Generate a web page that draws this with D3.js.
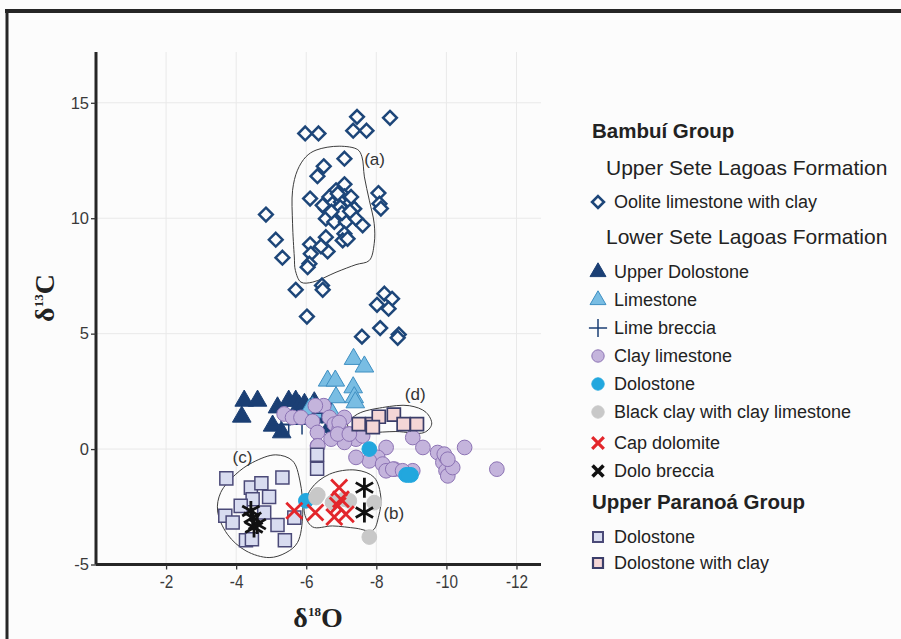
<!DOCTYPE html>
<html>
<head>
<meta charset="utf-8">
<script src="https://cdn.jsdelivr.net/npm/d3@7"></script>
<style>
  html, body { margin: 0; padding: 0; background: #fcfcfc; }
  svg { display: block; }
</style>
</head>
<body>
<svg id="chart"></svg>
<script>
const width = 901;
const height = 639;

// axis ticks
const xTicks = [-2, -4, -6, -8, -10, -12];
const yTicks = [-5, 0, 5, 10, 15];

// [d18O, d13C] pairs
const oolite = [
    [-5.97, 13.67], [-6.35, 13.67], [-7.45, 14.39], [-8.39, 14.35], [-7.34, 13.79], [-7.72, 13.79],
    [-7.09, 12.58], [-6.50, 12.25], [-6.32, 11.82], [-7.09, 11.47], [-6.11, 10.85],
    [-6.85, 11.21], [-6.66, 10.92], [-7.09, 10.95], [-6.75, 10.63], [-6.99, 10.70], [-7.23, 10.63],
    [-6.56, 10.41], [-6.85, 10.34], [-7.09, 10.34], [-7.37, 10.41], [-6.66, 10.12], [-6.94, 10.05],
    [-7.18, 10.12], [-6.56, 9.98], [-6.80, 9.84], [-7.13, 9.84], [-7.42, 9.98], [-7.61, 9.69],
    [-7.09, 9.33], [-7.04, 9.04], [-7.18, 9.11], [-6.90, 11.06], [-7.28, 10.92], [-6.47, 10.56],
    [-8.06, 11.09], [-8.09, 10.63], [-8.13, 10.42], [-4.85, 10.16], [-5.13, 9.07], [-5.32, 8.29],
    [-6.11, 8.87], [-6.13, 8.46], [-6.56, 9.18], [-6.61, 8.56], [-6.42, 8.78], [-6.09, 8.03],
    [-6.04, 7.88], [-5.70, 6.90], [-6.45, 7.09], [-6.47, 6.90], [-6.02, 5.74],
    [-8.23, 6.73], [-8.45, 6.51], [-8.02, 6.25], [-8.35, 6.08],
    [-7.59, 4.87], [-8.11, 5.24], [-8.64, 4.96], [-8.61, 4.82],
    [-6.97, 10.48], [-7.02, 10.22], [-6.72, 10.28], [-7.25, 10.30]
];
const upperDolostone = [
    [-4.23, 2.09], [-4.61, 2.09], [-4.16, 1.40], [-5.04, 1.01], [-5.30, 0.72], [-5.50, 2.09],
    [-5.70, 2.09], [-5.18, 1.80], [-5.80, 1.88], [-6.23, 2.02], [-6.70, 1.59], [-6.56, 1.37],
    [-6.66, 0.94], [-5.95, 1.95]
];
const limestone = [
    [-7.35, 3.90], [-7.66, 3.57], [-6.61, 2.96], [-6.83, 2.96], [-7.34, 2.67], [-6.85, 2.24],
    [-7.37, 2.24], [-7.40, 2.02], [-6.18, 1.80], [-6.09, 1.73], [-6.37, 1.59], [-6.75, 1.51]
];
const limeBreccia = [[-5.28, 1.05], [-5.50, 1.08], [-5.88, 1.08], [-6.45, 1.55]];
const clayLimestone = [
    [-5.37, 1.52], [-5.61, 1.37], [-5.85, 1.37], [-6.18, 1.20], [-6.32, 0.72], [-6.50, 1.88],
    [-6.66, 1.37], [-6.80, 1.08], [-6.94, 0.86], [-7.09, 1.37], [-7.23, 0.65], [-7.42, 0.43],
    [-7.61, 0.57], [-7.09, 0.29], [-6.94, 1.15], [-6.32, 0.14], [-6.26, 1.88],
    [-6.33, 0.14], [-6.71, 0.43], [-6.90, 0.65], [-7.23, 0.65],
    [-9.04, 0.50], [-9.33, 0.07], [-8.28, 0.07], [-8.04, -0.36], [-7.80, -0.51], [-7.42, -0.36],
    [-8.18, -0.65], [-8.52, -0.87], [-9.04, -0.94], [-8.28, -0.94], [-8.47, -0.87], [-8.75, -0.94],
    [-9.75, -0.15], [-9.90, -0.58], [-9.99, -0.94], [-10.04, -1.16], [-10.18, -0.80], [-9.99, -0.36],
    [-9.94, -0.22], [-10.04, -0.44], [-10.52, 0.07], [-11.44, -0.87]
];
const dolostoneLower = [[-7.80, 0.00], [-8.85, -1.12], [-8.99, -1.12], [-8.92, -1.12], [-5.99, -2.24]];
const blackClay = [
    [-6.28, -2.10], [-6.33, -1.98], [-6.75, -2.32], [-7.09, -2.17], [-7.23, -2.24], [-7.94, -2.32], [-7.80, -3.81]
];
const capDolomite = [
    [-5.66, -2.67], [-6.26, -2.75], [-6.80, -2.94], [-7.13, -2.82], [-6.94, -1.67], [-6.99, -2.17], [-6.90, -2.45]
];
const doloBreccia = [[-7.66, -1.67], [-7.66, -2.75], [-4.42, -2.68], [-4.47, -2.97], [-4.51, -3.40], [-4.60, -3.25]];
const paranoaDolostone = [
    [-3.72, -1.27], [-4.42, -1.67], [-4.72, -1.48], [-5.32, -1.23], [-4.94, -2.07], [-4.47, -2.17],
    [-4.13, -2.46], [-4.80, -2.75], [-3.69, -2.89], [-3.90, -3.18], [-5.18, -3.29], [-5.66, -2.97],
    [-5.39, -3.95], [-4.28, -3.95], [-4.45, -3.91], [-6.31, -0.25], [-6.31, -0.85]
];
const paranoaDolostoneClay = [
    [-7.50, 1.08], [-7.88, 1.08], [-8.07, 1.40], [-8.50, 1.49], [-8.78, 1.08], [-9.16, 1.08], [-7.90, 0.95]
];

// outlines drawn round the groups
const hullA = [
    [-6.28, 12.95], [-6.94, 13.12], [-7.47, 12.97], [-7.59, 12.66], [-7.66, 11.79], [-7.80, 10.78],
    [-7.94, 9.76], [-7.94, 8.90], [-7.80, 8.17], [-7.42, 7.99], [-6.85, 7.66], [-6.18, 7.23],
    [-5.85, 7.23], [-5.69, 7.74], [-5.66, 8.32], [-5.61, 9.76], [-5.61, 11.21], [-5.75, 12.08], [-5.99, 12.66]
];
const hullB = [
    [-5.94, -2.68], [-6.13, -1.74], [-6.66, -1.09], [-7.42, -0.91], [-7.94, -1.23], [-8.13, -2.10],
    [-8.07, -2.89], [-7.90, -3.52], [-7.42, -3.43], [-6.75, -3.33], [-6.18, -3.37]
];
const hullC = [
    [-4.47, -0.58], [-5.13, -0.25], [-5.61, -0.51], [-5.82, -1.38], [-5.90, -2.82], [-5.75, -4.05],
    [-5.42, -4.49], [-4.94, -4.70], [-4.28, -4.41], [-3.75, -3.69], [-3.47, -2.68], [-3.56, -1.88], [-3.99, -1.09]
];
const hullD = [
    [-7.18, 1.08], [-7.47, 1.52], [-8.18, 1.80], [-8.94, 1.88], [-9.42, 1.59], [-9.58, 1.08],
    [-9.37, 0.72], [-8.56, 0.76], [-7.80, 0.72], [-7.28, 0.79]
];
const hullLabels = [
    { text: "(a)", x: -7.95, y: 12.58 },
    { text: "(b)", x: -8.50, y: -2.75 },
    { text: "(c)", x: -4.18, y: -0.36 },
    { text: "(d)", x: -9.11, y: 2.38 }
];

const svg = d3.select("#chart")
    .attr("width", width)
    .attr("height", height);

svg.append("rect").attr("width", width).attr("height", height).attr("fill", "#fcfcfc");

// outer frame (top and left edges only visible)
svg.append("line").attr("x1", 5).attr("x2", width).attr("y1", 11).attr("y2", 11)
    .attr("stroke", "#262626").attr("stroke-width", 4);
svg.append("line").attr("x1", 7).attr("x2", 7).attr("y1", 9).attr("y2", height)
    .attr("stroke", "#262626").attr("stroke-width", 3);

const x = d3.scaleLinear().domain([0, -12.7]).range([96, 541]);
const y = d3.scaleLinear().domain([-5, 17.2]).range([564.5, 52]);

// grid
svg.append("g").selectAll("line").data(xTicks).join("line")
    .attr("x1", d => x(d)).attr("x2", d => x(d)).attr("y1", y(17.2)).attr("y2", y(-5))
    .attr("stroke", "#e9e9e9").attr("stroke-width", 1);
svg.append("g").selectAll("line").data(yTicks.filter(d => d > -5)).join("line")
    .attr("x1", x(0)).attr("x2", x(-12.7)).attr("y1", d => y(d)).attr("y2", d => y(d))
    .attr("stroke", "#e9e9e9").attr("stroke-width", 1);

// axes (plain hyphen for the minus sign, like the original)
const fmt = d => String(d);
const xAxis = svg.append("g")
    .attr("transform", `translate(0,${y(-5)})`)
    .call(d3.axisBottom(x).tickValues(xTicks).tickSize(5).tickPadding(6).tickFormat(fmt));
const yAxis = svg.append("g")
    .attr("transform", `translate(${x(0)},0)`)
    .call(d3.axisLeft(y).tickValues(yTicks).tickSize(5).tickPadding(2).tickFormat(fmt));
[xAxis, yAxis].forEach(a => {
    a.select(".domain").attr("stroke", "#262626").attr("stroke-width", 3);
    a.selectAll(".tick line").attr("stroke", "#333").attr("stroke-width", 1.3);
    a.selectAll(".tick text").attr("fill", "#3a3a3a")
        .style("font-family", "'Liberation Sans', Arial, sans-serif");
});
xAxis.selectAll(".tick text").style("font-size", "18px").attr("transform", "scale(0.85,1)");
yAxis.selectAll(".tick text").style("font-size", "16.5px");
xAxis.select(".domain").attr("d", `M${x(0)},0H${x(-12.7)}`);
yAxis.select(".domain").attr("d", `M0,${y(17.2)}V${y(-5)}`);

// axis titles
const serif = "'Liberation Serif', 'Times New Roman', serif";
const xt = svg.append("text").attr("x", 318).attr("y", 627).attr("text-anchor", "middle")
    .style("font-family", serif).style("font-weight", "bold").style("font-size", "28px").attr("fill", "#222");
xt.append("tspan").text("δ");
xt.append("tspan").attr("dy", -11).style("font-size", "13px").text("18");
xt.append("tspan").attr("dy", 11).text("O");

const yt = svg.append("text").attr("transform", "translate(54,298) rotate(-90)").attr("text-anchor", "middle")
    .style("font-family", serif).style("font-weight", "bold").style("font-size", "28px").attr("fill", "#222");
yt.append("tspan").text("δ");
yt.append("tspan").attr("dy", -11).style("font-size", "13px").text("13");
yt.append("tspan").attr("dy", 11).text("C");

// outlines
const hullLine = d3.line().x(d => x(d[0])).y(d => y(d[1])).curve(d3.curveCatmullRomClosed.alpha(0.5));
svg.append("g").selectAll("path").data([hullA, hullB, hullC, hullD]).join("path")
    .attr("d", hullLine).attr("fill", "none").attr("stroke", "#3d3d3d").attr("stroke-width", 1);
svg.append("g").selectAll("text").data(hullLabels).join("text")
    .attr("x", d => x(d.x)).attr("y", d => y(d.y)).attr("dy", "0.35em").attr("text-anchor", "middle")
    .style("font-family", "'Liberation Sans', Arial, sans-serif")
    .style("font-size", "17px").attr("fill", "#333").text(d => d.text);

// six-armed star: an X plus a vertical bar
const symbolStar6 = {
    draw(context, size) {
        const r = Math.sqrt(size) / 2;
        const c = r * Math.cos(Math.PI / 6), s = r * Math.sin(Math.PI / 6);
        context.moveTo(0, -r); context.lineTo(0, r);
        context.moveTo(-c, -s); context.lineTo(c, s);
        context.moveTo(-c, s); context.lineTo(c, -s);
    }
};

// marker styles
const styles = {
    upperDolostone: { type: d3.symbolTriangle, size: 150, fill: "#1b3f74", stroke: "#1b3f74", sw: 1 },
    limestone: { type: d3.symbolTriangle, size: 150, fill: "#79bde3", stroke: "#3e8fc2", sw: 1 },
    limeBreccia: { type: d3.symbolPlus, size: 140, fill: "none", stroke: "#1b3f74", sw: 1.5 },
    clayLimestone: { type: d3.symbolCircle, size: 170, fill: "#c4b4dc", stroke: "#8c73b4", sw: 1 },
    dolostoneLower: { type: d3.symbolCircle, size: 170, fill: "#22a7de", stroke: "#22a7de", sw: 1 },
    blackClay: { type: d3.symbolCircle, size: 170, fill: "#c8c8c8", stroke: "#c8c8c8", sw: 1 },
    paranoaDolostone: { type: d3.symbolSquare, size: 170, fill: "#d8dcf0", stroke: "#4b4a78", sw: 1.5 },
    paranoaDolostoneClay: { type: d3.symbolSquare, size: 170, fill: "#f4d6d6", stroke: "#3b3e6a", sw: 1.7 },
    capDolomite: { type: d3.symbolTimes, size: 170, fill: "none", stroke: "#e3262b", sw: 2.8 },
    doloBreccia: { type: symbolStar6, size: 400, fill: "none", stroke: "#111", sw: 2.8 },
    oolite: { type: d3.symbolDiamond2, size: 120, fill: "#fcfcfc", stroke: "#1d4679", sw: 2.5 }
};
const series = [
    ["upperDolostone", upperDolostone],
    ["limestone", limestone],
    ["limeBreccia", limeBreccia],
    ["clayLimestone", clayLimestone],
    ["dolostoneLower", dolostoneLower],
    ["blackClay", blackClay],
    ["paranoaDolostone", paranoaDolostone],
    ["paranoaDolostoneClay", paranoaDolostoneClay],
    ["capDolomite", capDolomite],
    ["doloBreccia", doloBreccia],
    ["oolite", oolite]
];

series.forEach(([key, pts]) => {
    const s = styles[key];
    svg.append("g").selectAll("path").data(pts).join("path")
        .attr("transform", d => `translate(${x(d[0])},${y(d[1])})`)
        .attr("d", d3.symbol().type(s.type).size(s.size))
        .attr("fill", s.fill).attr("stroke", s.stroke).attr("stroke-width", s.sw);
});

// legend
const legendItems = [
    { label: "Bambuí Group", kind: "group", y: 138 },
    { label: "Upper Sete Lagoas Formation", kind: "sub", y: 175 },
    { label: "Oolite limestone with clay", key: "oolite", y: 208 },
    { label: "Lower Sete Lagoas Formation", kind: "sub", y: 244 },
    { label: "Upper Dolostone", key: "upperDolostone", y: 278 },
    { label: "Limestone", key: "limestone", y: 306 },
    { label: "Lime breccia", key: "limeBreccia", y: 334 },
    { label: "Clay limestone", key: "clayLimestone", y: 362 },
    { label: "Dolostone", key: "dolostoneLower", y: 390 },
    { label: "Black clay with clay limestone", key: "blackClay", y: 418 },
    { label: "Cap dolomite", key: "capDolomite", y: 449 },
    { label: "Dolo breccia", key: "doloBreccia", y: 477 },
    { label: "Upper Paranoá Group", kind: "group", y: 509 },
    { label: "Dolostone", key: "paranoaDolostone", y: 543 },
    { label: "Dolostone with clay", key: "paranoaDolostoneClay", y: 569 }
];
const legendSym = {
    oolite: { size: 90, sw: 2.6 },
    upperDolostone: { size: 110, sw: 1 },
    limestone: { size: 110, sw: 1 },
    limeBreccia: { size: 110, sw: 1.5 },
    clayLimestone: { size: 120, sw: 1 },
    dolostoneLower: { size: 120, sw: 1 },
    blackClay: { size: 120, sw: 1 },
    capDolomite: { size: 90, sw: 3.2 },
    doloBreccia: { size: 80, sw: 3.6, type: d3.symbolTimes },
    paranoaDolostone: { size: 100, sw: 2 },
    paranoaDolostoneClay: { size: 100, sw: 2.2 }
};
const sans = "'Liberation Sans', Arial, sans-serif";
const legend = svg.append("g");
legendItems.forEach(it => {
    if (it.kind === "group") {
        legend.append("text").attr("x", 592).attr("y", it.y).text(it.label)
            .style("font-family", sans).style("font-weight", "bold").style("font-size", "20.5px").attr("fill", "#222");
    } else if (it.kind === "sub") {
        legend.append("text").attr("x", 606).attr("y", it.y).text(it.label)
            .style("font-family", sans).style("font-size", "21px").attr("fill", "#222");
    } else {
        const s = styles[it.key];
        const ls = legendSym[it.key];
        legend.append("path")
            .attr("transform", `translate(598,${it.y - 6})`)
            .attr("d", d3.symbol().type(ls.type || s.type).size(ls.size))
            .attr("fill", s.fill).attr("stroke", s.stroke).attr("stroke-width", ls.sw);
        legend.append("text").attr("x", 614).attr("y", it.y).text(it.label)
            .style("font-family", sans).style("font-size", "18px").attr("fill", "#222");
    }
});
</script>
</body>
</html>
